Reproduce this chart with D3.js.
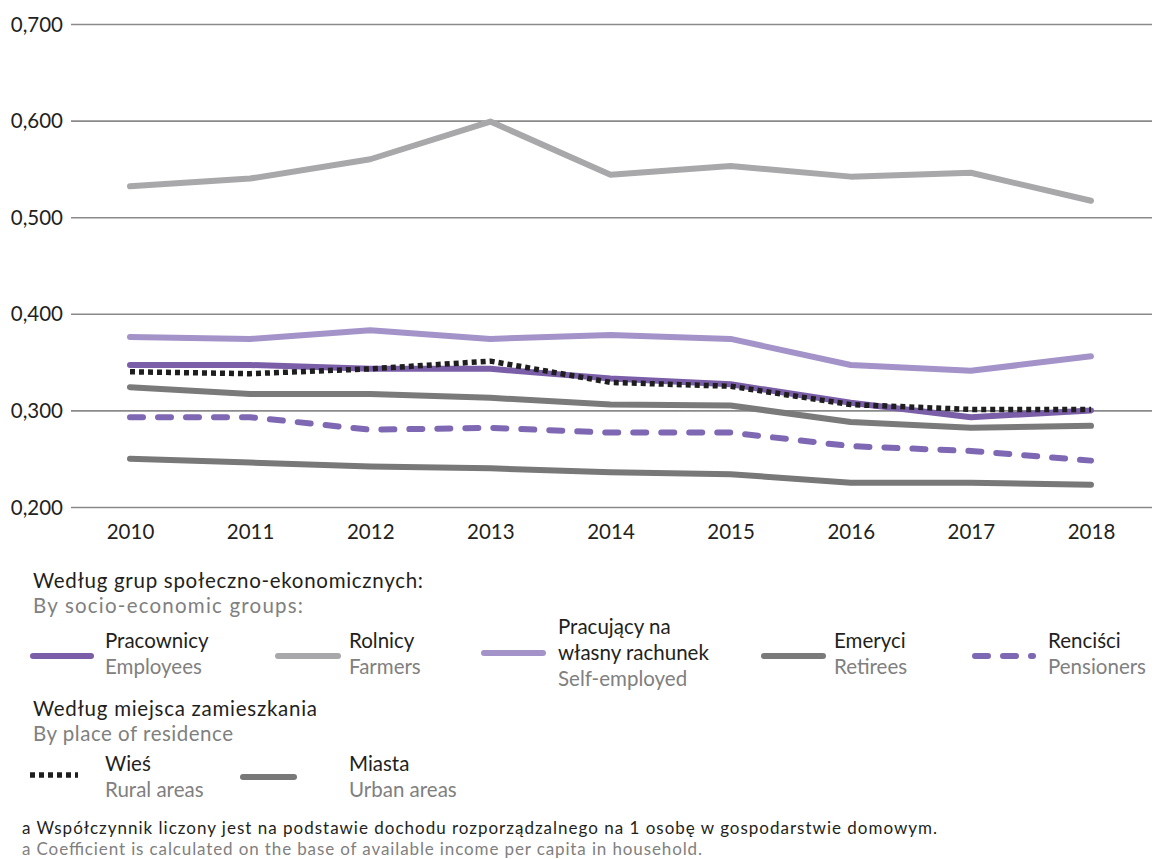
<!DOCTYPE html>
<html><head><meta charset="utf-8">
<script src="https://cdn.jsdelivr.net/npm/d3@7/dist/d3.min.js"></script>
<style>
body{margin:0;background:#fff;}
svg text{font-family:Lato,"Open Sans",sans-serif;}
</style></head>
<body><svg id="c" width="1154" height="859"></svg>
<script>
const years = [2010,2011,2012,2013,2014,2015,2016,2017,2018];
const yTicks = [0.2,0.3,0.4,0.5,0.6,0.7];
const pracownicy = [0.347,0.347,0.343,0.343,0.333,0.327,0.308,0.293,0.300];
const rolnicy = [0.532,0.540,0.560,0.599,0.544,0.553,0.542,0.546,0.517];
const pracujacy = [0.376,0.374,0.383,0.374,0.378,0.374,0.347,0.341,0.356];
const emeryci = [0.324,0.317,0.317,0.313,0.306,0.305,0.288,0.282,0.284];
const rencisci = [0.293,0.293,0.280,0.282,0.277,0.277,0.263,0.258,0.248];
const wies = [0.340,0.338,0.343,0.351,0.329,0.325,0.306,0.301,0.301];
const miasta = [0.250,0.246,0.242,0.240,0.236,0.234,0.225,0.225,0.223];

const series = [
  {pl:"Rolnicy", en:"Farmers", v:rolnicy, color:"#a8a8ab", dash:null},
  {pl:"Miasta", en:"Urban areas", v:miasta, color:"#787878", dash:null},
  {pl:"Renciści", en:"Pensioners", v:rencisci, color:"#7e67b3", dash:"13,15"},
  {pl:"Emeryci", en:"Retirees", v:emeryci, color:"#7a7a7a", dash:null},
  {pl:"Pracujący na własny rachunek", en:"Self-employed", v:pracujacy, color:"#a493c9", dash:null},
  {pl:"Pracownicy", en:"Employees", v:pracownicy, color:"#7b5ea8", dash:null},
  {pl:"Wieś", en:"Rural areas", v:wies, color:"#1e1e1e", dash:"5,4", butt:true, w:5.5}
];

const svg = d3.select("#c");
const x = d3.scalePoint().domain(years).range([130,1091]);
const y = d3.scaleLinear().domain([0.2,0.7]).range([507,24]);
const fmt = d => d3.format(".3f")(d).replace(".",",");

const ga = svg.append("g").attr("transform","translate(71,0)")
  .call(d3.axisLeft(y).tickValues(yTicks).tickSize(-1081).tickFormat(fmt).tickPadding(8));
ga.select(".domain").remove();
ga.selectAll(".tick line").attr("stroke","#8a8a8a").attr("stroke-width",1.6);
ga.selectAll(".tick text").attr("fill","#231f20").style("font-size","20.5px").attr("dy","0.35em");

const xa = svg.append("g").attr("transform","translate(0,507)")
  .call(d3.axisBottom(x).tickSize(0).tickPadding(17).tickFormat(d3.format("d")));
xa.select(".domain").remove();
xa.selectAll(".tick text").attr("fill","#231f20").style("font-size","20.5px");

const line = d3.line().x((d,i)=>x(years[i])).y(d=>y(d));
series.forEach(s=>{
  svg.append("path").attr("d",line(s.v)).attr("fill","none")
    .attr("stroke",s.color).attr("stroke-width",s.w||6)
    .attr("stroke-linecap",s.butt?"butt":"round").attr("stroke-linejoin","round")
    .attr("stroke-dasharray",s.dash);
});

const dark="#231f20", gray="#808080", fs="20.5px";
function txt(t,xx,yy,c,len){const e=svg.append("text").attr("x",xx).attr("y",yy).attr("fill",c).style("font-size",fs).text(t);
  if(len) e.attr("textLength",len).attr("lengthAdjust","spacing");}
txt("Według grup społeczno-ekonomicznych:",33,588,dark,390);
txt("By socio-economic groups:",33,613,gray,270);
txt("Według miejsca zamieszkania",33,716,dark,284);
txt("By place of residence",33,741,gray,200);

function sample(s,x1,x2,yy){
  svg.append("line").attr("x1",x1).attr("x2",x2).attr("y1",yy).attr("y2",yy)
    .attr("stroke",s.color).attr("stroke-width",s.w||6)
    .attr("stroke-linecap",s.butt?"butt":"round").attr("stroke-dasharray",s.dash);
}
const byName = n => series.find(s=>s.pl===n);
const leg = [
  {n:"Pracownicy", x1:33,x2:91,yy:656,tx:105,lines:[[ "Pracownicy",dark,648],["Employees",gray,674]]},
  {n:"Rolnicy", x1:278,x2:338,yy:656,tx:349,lines:[["Rolnicy",dark,648],["Farmers",gray,674]]},
  {n:"Pracujący na własny rachunek", x1:484,x2:543,yy:653,tx:558,lines:[["Pracujący na",dark,634],["własny rachunek",dark,660],["Self-employed",gray,686]]},
  {n:"Emeryci", x1:764,x2:823,yy:656,tx:834,lines:[["Emeryci",dark,648],["Retirees",gray,674]]},
  {n:"Renciści", x1:975,x2:1033,yy:656,tx:1048,lines:[["Renciści",dark,648],["Pensioners",gray,674]]},
  {n:"Wieś", x1:30,x2:78,yy:775,tx:105,lines:[["Wieś",dark,771],["Rural areas",gray,797]]},
  {n:"Miasta", x1:243,x2:294,yy:777,tx:349,lines:[["Miasta",dark,771],["Urban areas",gray,797]]}
];
leg.forEach(l=>{
  sample(byName(l.n),l.x1,l.x2,l.yy);
  l.lines.forEach(t=>txt(t[0],l.tx,t[2],t[1]));
});
svg.append("text").attr("x",22).attr("y",834).attr("fill",dark).style("font-size","17px")
  .attr("textLength",915).attr("lengthAdjust","spacing")
  .text("a Współczynnik liczony jest na podstawie dochodu rozporządzalnego na 1 osobę w gospodarstwie domowym.");
svg.append("text").attr("x",22).attr("y",855).attr("fill",gray).style("font-size","17px")
  .attr("textLength",680).attr("lengthAdjust","spacing")
  .text("a Coefficient is calculated on the base of available income per capita in household.");
</script></body></html>
